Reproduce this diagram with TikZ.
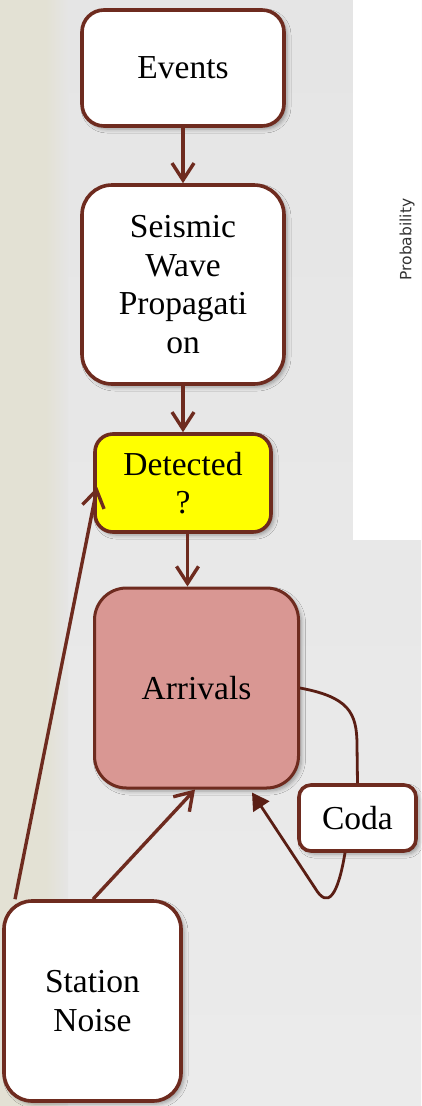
\documentclass[tikz,border=0pt]{standalone}
\usepackage{fontspec}
\setmainfont{Liberation Serif}
\newfontfamily\labelsans{DejaVu Sans}
\usetikzlibrary{arrows.meta,shadows.blur}

\definecolor{rim}{HTML}{6E2B1F}
\definecolor{loopline}{HTML}{5A1E14}
\definecolor{arrfill}{HTML}{D99793}
\definecolor{detfill}{HTML}{FFFF00}
\definecolor{paper}{HTML}{E5E5E5}
\definecolor{paperlow}{HTML}{EBEBEB}
\definecolor{beige}{HTML}{E3E1D4}
\definecolor{axisgray}{HTML}{333333}

\tikzset{
  box/.style={draw=rim, line width=3.6pt, fill=white, rectangle, inner sep=0pt,
    align=center, text=black, font=\fontsize{33.5}{38.5}\selectfont,
    blur shadow={shadow xshift=3pt, shadow yshift=-3pt,
      shadow blur radius=4pt, shadow opacity=35}},
  conn/.style={draw=rim, line width=3.4pt,
    -{Straight Barb[length=17pt,width=22pt,line width=3.4pt]}},
  loopline/.style={draw=loopline, line width=2.8pt},
}

\begin{document}
\begin{tikzpicture}[x=1pt, y=-1pt]
  \useasboundingbox (0,0) rectangle (421,1106);

  % paper background with a tinted left margin
  \shade[top color=paper, bottom color=paperlow] (0,0) rectangle (421,1106);
  \fill[beige] (0,0) rectangle (46,1106);
  \shade[left color=beige, right color=paper] (46,0) rectangle (68,1106);

  % plot panel on the right
  \fill[white] (353,0) rectangle (421,540);
  \node[rotate=90, font=\labelsans\fontsize{15.5}{18}\selectfont, text=axisgray]
    (prob) at (407,239.5) {Probability};

  % model boxes
  \node[box, rounded corners=22pt, minimum width=202pt, minimum height=116pt]
    (ev) at (183,68) {Events};
  \node[box, rounded corners=30pt, minimum width=202pt, minimum height=199pt]
    (sw) at (183,284.5) {Seismic\\Wave\\Propagati\\on};
  \node[box, rounded corners=18pt, fill=detfill, minimum width=176pt, minimum height=98pt]
    (det) at (183,483) {Detected\\?};
  \node[box, rounded corners=32pt, fill=arrfill, line width=3pt,
    minimum width=204pt, minimum height=200pt]
    (arr) at (196.5,688) {Arrivals};
  \node[box, rounded corners=12pt, minimum width=117pt, minimum height=66pt]
    (coda) at (357.5,818) {Coda};
  \node[box, rounded corners=28pt, minimum width=177pt, minimum height=200pt]
    (st) at (92.5,1001) {Station\\Noise};

  % dependencies
  \draw[conn] (ev.south) -- (sw.north);
  \draw[conn] (sw.south) -- (det.north);
  \draw[conn] ([xshift=4.5pt]det.south) -- ([xshift=4.5pt]det.south |- arr.north);
  \draw[conn] ([xshift=-77.5pt]st.north) -- ([xshift=4pt,yshift=-4pt]det.west);
  \draw[conn] ([xshift=0.5pt]st.north) -- ([xshift=-1.5pt]arr.south);

  % coda loop
  \draw[loopline] (arr.east) .. controls (348,697) and (357,712) .. (357,745) -- (coda.north);
  \draw[loopline, -{Triangle[length=17pt,width=19pt]}]
    ([xshift=-12.5pt]coda.south) .. controls (338,895) and (328,910) .. (315,888)
    -- ([xshift=55.5pt,yshift=-3pt]arr.south);
\end{tikzpicture}
\end{document}
